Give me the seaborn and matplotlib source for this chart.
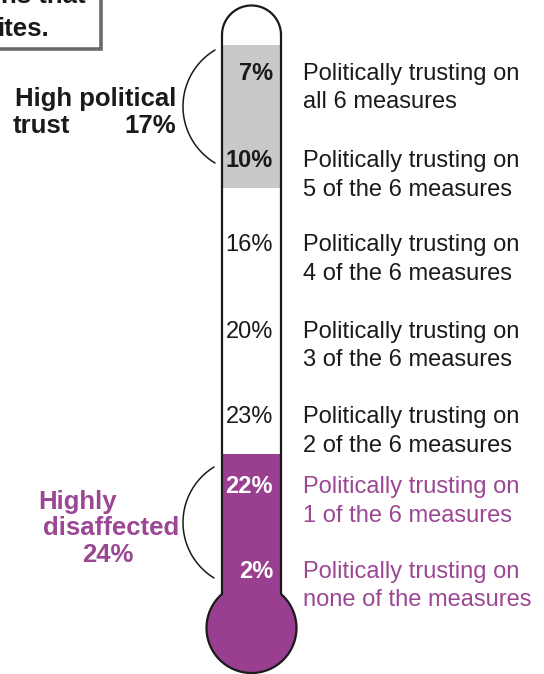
import numpy as np
import matplotlib
matplotlib.use("Agg")
import matplotlib.pyplot as plt
import seaborn as sns
from matplotlib.patches import Rectangle, Circle

# ---------------- data ----------------
line1_text = "Politically trusting on"
line2_texts = ["all 6 measures", "5 of the 6 measures", "4 of the 6 measures",
               "3 of the 6 measures", "2 of the 6 measures", "1 of the 6 measures",
               "none of the measures"]
pcts = [7, 10, 16, 20, 23, 22, 2]
groups = ["high", "high", "mid", "mid", "mid", "low", "low"]
high_title = ["High political", "trust"]
low_title = ["Highly", "disaffected"]
box_lines = ["ns that", "ites."]

# ---------------- style ----------------
sns.set_theme(style="white")
plt.rcParams["font.family"] = ["Liberation Sans", "DejaVu Sans"]

GRAY = "#c9c9c9"
PURPLE = "#9a3f8f"
PURPLE_TXT = "#9c4794"
INK = "#1a1a1a"

fig = plt.figure(figsize=(5.44, 6.74), dpi=100)
ax = fig.add_axes([0, 0, 1, 1])
ax.set_xlim(0, 544)
ax.set_ylim(674, 0)
ax.axis("off")

# ---------------- layout ----------------
row_y = [72, 159, 243, 330, 415, 485, 570]   # cap-centre of first text line
line_gap = 28.5
tx_l, tx_r = 222, 281          # tube walls
tcx = (tx_l + tx_r) / 2
tr = (tx_r - tx_l) / 2
dome_cy = 35
bulb_c, bulb_r = (tcx, 628), 45
fs = 17
cap_off = 8

# fills
idx_high = [i for i, g in enumerate(groups) if g == "high"]
idx_low = [i for i, g in enumerate(groups) if g == "low"]
high_top, high_bot = row_y[idx_high[0]] - 27, row_y[idx_high[-1]] + 29
low_top = row_y[idx_low[0]] - 31
ax.add_patch(Rectangle((tx_l, high_top), tx_r - tx_l, high_bot - high_top,
                       facecolor=GRAY, edgecolor="none", zorder=1))
ax.add_patch(Rectangle((tx_l, low_top), tx_r - tx_l, bulb_c[1] - low_top,
                       facecolor=PURPLE, edgecolor="none", zorder=1))
ax.add_patch(Circle(bulb_c, bulb_r, facecolor=PURPLE, edgecolor="none", zorder=1))

# outline
lw = 1.6
a = np.linspace(0, np.pi, 100)
ax.plot(tcx + tr * np.cos(a), dome_cy - tr * np.sin(a), color=INK, lw=lw, zorder=3)
jy = bulb_c[1] - np.sqrt(bulb_r**2 - tr**2)
ax.plot([tx_l, tx_l], [dome_cy, jy], color=INK, lw=lw, zorder=3)
ax.plot([tx_r, tx_r], [dome_cy, jy], color=INK, lw=lw, zorder=3)
a0 = np.pi - np.arcsin((bulb_c[1] - jy) / bulb_r)
a1 = 2 * np.pi + np.arcsin((bulb_c[1] - jy) / bulb_r)
b = np.linspace(a0, a1, 200)
ax.plot(bulb_c[0] + bulb_r * np.cos(b), bulb_c[1] - bulb_r * np.sin(b),
        color=INK, lw=lw, zorder=3)

# labels per row
for i, (p, g, l2) in enumerate(zip(pcts, groups, line2_texts)):
    base = row_y[i] + cap_off
    if g == "high":
        pc, pw, tc = INK, "bold", INK
    elif g == "low":
        pc, pw, tc = "white", "bold", PURPLE_TXT
    else:
        pc, pw, tc = INK, "normal", INK
    ax.text(273, base, f"{p}%", ha="right", va="baseline", fontsize=fs,
            fontweight=pw, color=pc, zorder=4)
    ax.text(303, base, line1_text, ha="left", va="baseline", fontsize=fs, color=tc)
    ax.text(303, base + line_gap, l2, ha="left", va="baseline", fontsize=fs, color=tc)

# brackets
def bracket(y0, y1, xend, xleft):
    cy = (y0 + y1) / 2
    half = (y1 - y0) / 2
    s = xend - xleft
    R = (half**2 + s**2) / (2 * s)
    cx = xleft + R
    yy = np.linspace(y0, y1, 100)
    xx = cx - np.sqrt(R**2 - (yy - cy) ** 2)
    ax.plot(xx, yy, color=INK, lw=1.1, zorder=3)

bracket(50, 163, 215, 183)
bracket(467, 578, 214, 183)

# group titles
high_sum = sum(p for p, g in zip(pcts, groups) if g == "high")
low_sum = sum(p for p, g in zip(pcts, groups) if g == "low")
tfs = 18.5
ax.text(176, 106, high_title[0], ha="right", va="baseline", fontsize=tfs,
        fontweight="bold", color=INK)
ax.text(13, 133, high_title[1], ha="left", va="baseline", fontsize=tfs,
        fontweight="bold", color=INK)
ax.text(176, 133, f"{high_sum}%", ha="right", va="baseline", fontsize=tfs,
        fontweight="bold", color=INK)

ax.text(38, 509, low_title[0], ha="left", va="baseline", fontsize=tfs,
        fontweight="bold", color=PURPLE_TXT)
ax.text(43, 535, low_title[1], ha="left", va="baseline", fontsize=tfs,
        fontweight="bold", color=PURPLE_TXT)
ax.text(108, 562, f"{low_sum}%", ha="center", va="baseline", fontsize=tfs,
        fontweight="bold", color=PURPLE_TXT)

# cut-off box at top-left
ax.add_patch(Rectangle((-20, -20), 121, 69, facecolor="white", edgecolor="#6a6a6a",
                       lw=2.6, zorder=2))
ax.text(86, 3, box_lines[0], ha="right", va="baseline", fontsize=tfs,
        fontweight="bold", color=INK, zorder=3)
ax.text(49, 36, box_lines[1], ha="right", va="baseline", fontsize=tfs,
        fontweight="bold", color=INK, zorder=3)

fig.savefig("out.png", dpi=100)
